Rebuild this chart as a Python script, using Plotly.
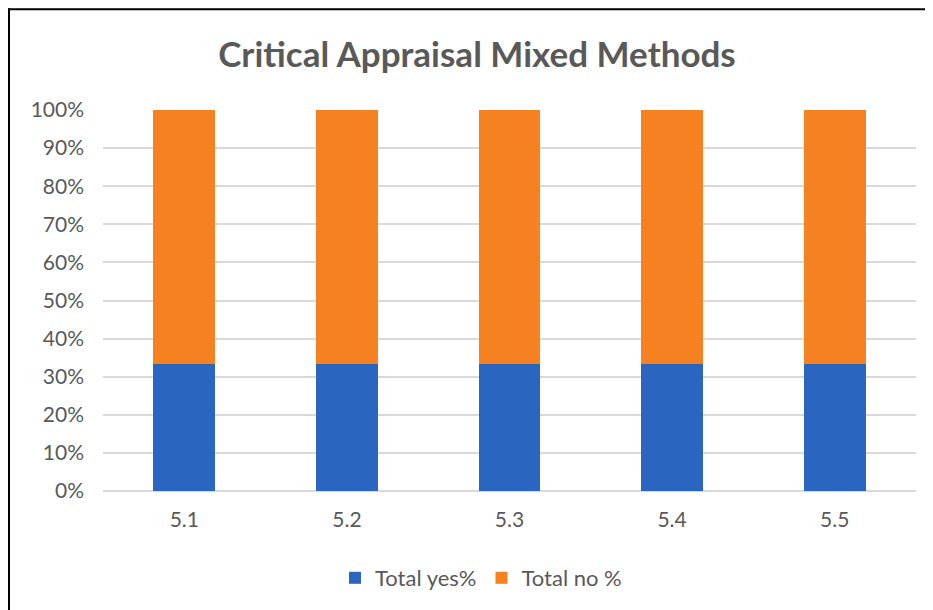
import plotly.graph_objects as go

categories = ["5.1", "5.2", "5.3", "5.4", "5.5"]
yes_pct = [0.3333, 0.3333, 0.3333, 0.3333, 0.3333]
no_pct = [0.6667, 0.6667, 0.6667, 0.6667, 0.6667]
y_ticks = [0, 0.1, 0.2, 0.3, 0.4, 0.5, 0.6, 0.7, 0.8, 0.9, 1.0]
y_tick_labels = ["0%", "10%", "20%", "30%", "40%", "50%", "60%", "70%", "80%", "90%", "100%"]

FONT = "Lato"
GRAY = "#595959"
OFF = 8  # page body margin

fig = go.Figure()
fig.add_trace(go.Bar(x=categories, y=yes_pct, name="Total yes%",
                     marker=dict(color="#2A66C0", line=dict(width=0))))
fig.add_trace(go.Bar(x=categories, y=no_pct, name="Total no %",
                     marker=dict(color="#F68121", line=dict(width=0))))

W, H = 933 - OFF, 610 - OFF
# plot area in page pixels: x 103..916, y 110..492
L = 103 - OFF
R = W - (916 - OFF)
T = 110 - OFF
B = H - (492 - OFF)
pw, ph = W - L - R, H - T - B

def px_x(p):
    return (p - OFF - L) / pw

def px_y(p):
    return (H - B - (p - OFF)) / ph

border = dict(color="black", width=2)

fig.update_layout(
    width=W, height=H,
    barmode="stack", bargap=0.62,
    margin=dict(l=L, r=R, t=T, b=B),
    paper_bgcolor="white", plot_bgcolor="white",
    font=dict(family=FONT, color=GRAY, size=21),
    title=dict(text="<b>Critical Appraisal Mixed Methods</b>",
               x=(477 - OFF) / W, xanchor="center", y=1 - (55 - OFF) / H, yanchor="middle",
               font=dict(family=FONT, size=35, color=GRAY)),
    xaxis=dict(showgrid=False, showline=False, ticks="", ticklabelstandoff=14,
               tickfont=dict(size=21, color=GRAY)),
    yaxis=dict(range=[0, 1], tickvals=y_ticks, ticktext=y_tick_labels,
               showgrid=True, gridcolor="#D9D9D9", gridwidth=1.5,
               zeroline=True, zerolinecolor="#D9D9D9", zerolinewidth=1.5,
               ticks="", ticklabelstandoff=18, tickfont=dict(size=21, color=GRAY)),
    legend=dict(orientation="h", x=px_x(481), xanchor="center",
                y=px_y(578), yanchor="middle",
                font=dict(size=22, color=GRAY), itemwidth=30,
                traceorder="normal"),
    shapes=[
        dict(type="line", xref="paper", yref="paper",
             x0=px_x(8), x1=px_x(940), y0=px_y(9), y1=px_y(9), line=border),
        dict(type="line", xref="paper", yref="paper",
             x0=px_x(9), x1=px_x(9), y0=px_y(8), y1=px_y(620), line=border),
    ],
)

fig.write_html("out.html")
